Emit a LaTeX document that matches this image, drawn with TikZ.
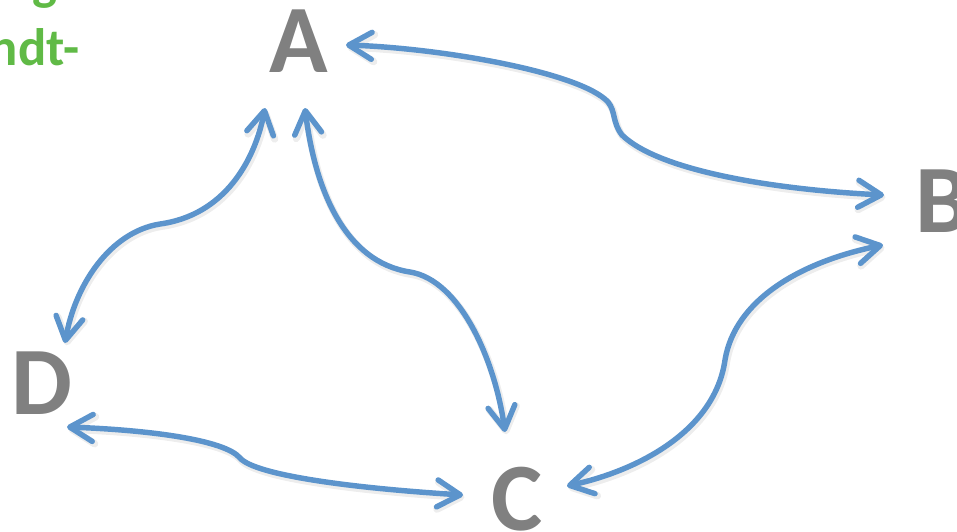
\documentclass[tikz,border=0pt]{standalone}
\usepackage{fontspec}
\setmainfont{Carlito}
\usetikzlibrary{arrows.meta,calc}
\definecolor{linkblue}{RGB}{92,148,204}
\definecolor{lettergray}{RGB}{128,128,128}
\definecolor{titlegreen}{RGB}{96,186,70}
\begin{document}
\begin{tikzpicture}[x=0.02cm, y=-0.02cm,
  letter/.style={inner sep=0pt, text=lettergray, font=\fontsize{55}{60}\selectfont\bfseries},
  link/.style={draw=linkblue, line width=3.1pt, line cap=round,
    preaction={draw=black!7, line width=4.2pt, transform canvas={shift={(0.8pt,-1.3pt)}}},
    {Straight Barb[length=4.6mm,width=5.4mm,round]}-{Straight Barb[length=4.6mm,width=5.4mm,round]}}]
\useasboundingbox (0,0) rectangle (957,531);
% titulo (cortado)
\node[anchor=base east, inner sep=0pt, text=titlegreen, font=\fontsize{30}{36}\selectfont\bfseries] (tit1) at (58,-1) {g};
\node[anchor=base east, inner sep=0pt, text=titlegreen, font=\fontsize{30}{36}\selectfont\bfseries] (tit2) at (80,65) {ndt-};

% letras
\node[letter] (A) at (299,41) {A};
\node[letter] (B) at (943,201) {B};
\node[letter] (C) at (517,499) {C};
\node[letter] (D) at (42,383) {D};

% A para B
\draw[link] ($(A)+(47,4)$) .. controls (440,48) and (580,72) .. (608,102)
  .. controls (616,112) and (612,122) .. (622,135)
  .. controls (660,172) and (780,190) .. ($(B)+(-59,-6)$);
% A para D
\draw[link] ($(A)+(-34,67)$) .. controls (255,160) and (225,215) .. (160,224)
  .. controls (110,232) and (75,285) .. ($(D)+(23,-40)$);
% A para C
\draw[link] ($(A)+(6,67)$) .. controls (315,190) and (345,262) .. (410,272)
  .. controls (460,280) and (495,360) .. ($(C)+(-12,-67)$);
% B para C
\draw[link] ($(B)+(-60,44)$) .. controls (800,262) and (735,300) .. (725,360)
  .. controls (715,430) and (640,470) .. ($(C)+(50,-13)$);
% D para C
\draw[link] ($(D)+(25,44)$) .. controls (150,430) and (225,440) .. (240,458)
  .. controls (255,475) and (350,488) .. ($(C)+(-54,-4)$);
\end{tikzpicture}
\end{document}
